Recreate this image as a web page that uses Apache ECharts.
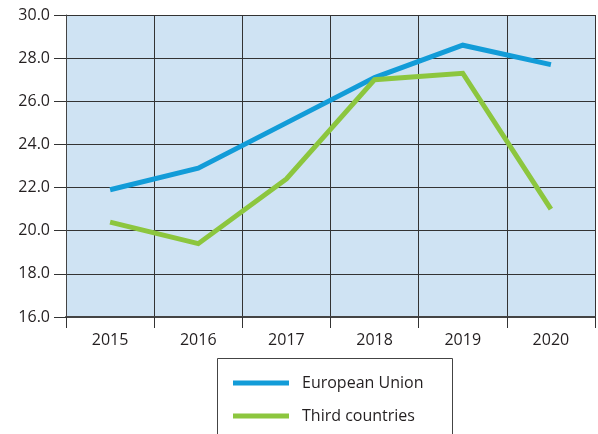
<!DOCTYPE html>
<html>
<head>
<meta charset="utf-8">
<script src="https://cdn.jsdelivr.net/npm/echarts@6/dist/echarts.min.js"></script>
<style>
  html, body { margin: 0; padding: 0; background: #fff; }
  #main { width: 598px; height: 434px; }
</style>
</head>
<body>
<div id="main"></div>
<script>
// 数据
var years = ['2015', '2016', '2017', '2018', '2019', '2020']
var euData = [21.9, 22.9, 25.0, 27.1, 28.6, 27.7]
var thirdData = [20.4, 19.4, 22.4, 27.0, 27.3, 21.0]
var seriesNames = ['European Union', 'Third countries']

var chart = echarts.init(document.getElementById('main'), null, { renderer: 'canvas' })
var font = '"Open Sans", "Noto Sans", sans-serif'

var option = {
  animation: false,
  textStyle: { fontFamily: font },
  grid: {
    show: true,
    left: 66,
    right: 3,
    top: 15,
    bottom: 117,
    backgroundColor: '#cfe3f3',
    borderWidth: 0
  },
  // 图例外框
  graphic: [{
    type: 'rect',
    left: 217,
    top: 358,
    shape: { width: 235, height: 100 },
    style: { fill: '#fff', stroke: '#444', lineWidth: 1 },
    z: 1
  }],
  legend: {
    data: seriesNames,
    orient: 'vertical',
    left: 233,
    top: 375,
    padding: 0,
    itemGap: 17,
    itemWidth: 56,
    itemHeight: 5,
    icon: 'rect',
    z: 5,
    textStyle: { fontSize: 16, color: '#231f20', fontFamily: font, padding: [0, 0, 0, 8] }
  },
  xAxis: {
    type: 'category',
    data: years,
    boundaryGap: true,
    axisLine: { lineStyle: { color: '#444', width: 2 } },
    axisTick: { show: true, length: 11, lineStyle: { color: '#333', width: 1 } },
    axisLabel: { fontSize: 16, color: '#231f20', margin: 15 },
    splitLine: { show: true, lineStyle: { color: '#333', width: 1 } }
  },
  yAxis: {
    type: 'value',
    min: 16,
    max: 30,
    interval: 2,
    axisLine: { show: true, lineStyle: { color: '#444', width: 1 } },
    axisTick: { show: true, length: 12, lineStyle: { color: '#333', width: 1 } },
    axisLabel: {
      fontSize: 16,
      color: '#231f20',
      margin: 16,
      formatter: function (v) { return v.toFixed(1) }
    },
    splitLine: { show: true, lineStyle: { color: '#333', width: 1 } }
  },
  series: [
    {
      name: seriesNames[0],
      type: 'line',
      data: euData,
      color: '#129cd8',
      showSymbol: false,
      lineStyle: { width: 5, color: '#129cd8', cap: 'butt', join: 'miter' }
    },
    {
      name: seriesNames[1],
      type: 'line',
      data: thirdData,
      color: '#8cc63e',
      showSymbol: false,
      lineStyle: { width: 5, color: '#8cc63e', cap: 'butt', join: 'miter' }
    }
  ]
}
chart.setOption(option)
</script>
</body>
</html>
